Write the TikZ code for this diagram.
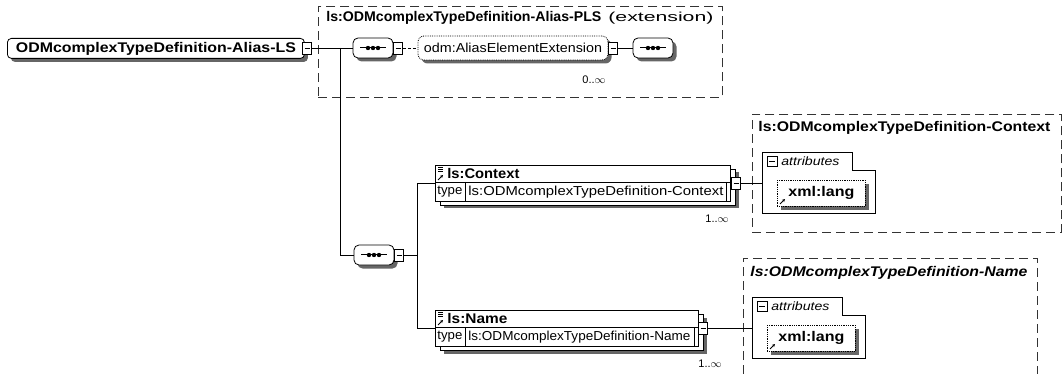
\documentclass[tikz,border=0pt]{standalone}
\usepackage{graphicx}
\usepackage{fontspec}
\setmainfont{Liberation Sans}
\usetikzlibrary{shadows,arrows.meta}
\newcommand\fw[2]{\resizebox{#1pt}{\height}{#2}}
\begin{document}
\begin{tikzpicture}[x=1pt,y=-1pt,line width=0.8pt,
  shd/.style={drop shadow={shadow xshift=3.5pt,shadow yshift=-3.5pt,fill=black!60,opacity=1}},
  rt/.style={font=\fontsize{13}{15}\selectfont,inner sep=0pt},
  bt/.style={font=\fontsize{14}{16}\selectfont\bfseries,inner sep=0pt},
  it/.style={font=\fontsize{12}{14}\selectfont\itshape,inner sep=0pt},
  sm/.style={font=\fontsize{11}{13}\selectfont,inner sep=0pt},
  grp/.style={draw=black!80,dash pattern=on 9pt off 5pt,line width=0.7pt,inner sep=0pt,anchor=north west},
  grpline/.style={draw=black!80,dash pattern=on 9pt off 5pt,line width=0.7pt},
  minusbox/.style={draw,fill=white,minimum width=9pt,minimum height=12pt,inner sep=0pt,
     path picture={\draw[line width=0.8pt] ([xshift=2pt]path picture bounding box.west) -- ([xshift=-2pt]path picture bounding box.east);}},
  seqbox/.style={draw,fill=white,rounded corners=5pt,shd,minimum width=40pt,minimum height=20pt,inner sep=0pt,
     path picture={\draw[line width=1pt] ([xshift=-13pt]path picture bounding box.center) -- ([xshift=13pt]path picture bounding box.center);
       \fill[black] ([xshift=-5pt]path picture bounding box.center) circle (2.2pt);
       \fill[black] (path picture bounding box.center) circle (2.2pt);
       \fill[black] ([xshift=5pt]path picture bounding box.center) circle (2.2pt);}},
  elem/.style={draw,fill=white,inner sep=0pt,anchor=north west,minimum height=36pt},
  attrbody/.style={inner sep=0pt,anchor=north west,minimum width=113pt,minimum height=43pt},
  xmlbox/.style={draw,densely dotted,fill=white,shd,minimum width=88pt,minimum height=26pt,inner sep=0pt,anchor=north west,bt},
  refarrow/.style={-{Stealth[length=3pt,width=3pt]},line width=0.8pt}
]
\useasboundingbox (0,0) rectangle (1063,374);

% ---------- groups ----------
\node[grp,minimum width=404pt,minimum height=91pt] (g1) at (318,6) {};
\node[bt,anchor=west] (g1t) at (326,18) {\fw{275}{ls:ODMcomplexTypeDefinition-Alias-PLS}};
\node[rt,anchor=west] (g1x) at (608,18) {\fw{105}{(extension)}};

\node[grp,minimum width=309pt,minimum height=118pt] (g2) at (752,114) {};
\node[bt,anchor=west] (g2t) at (758,128) {\fw{292}{ls:ODMcomplexTypeDefinition-Context}};

\draw[grpline] (743,374) -- (743,258) -- (1037,258) -- (1037,374);
\node[bt,anchor=west] (g3t) at (750,273) {\fw{277}{\itshape ls:ODMcomplexTypeDefinition-Name}};

% ---------- root ----------
\node[draw,fill=white,rounded corners=4pt,shd,minimum width=297pt,minimum height=20pt,anchor=north west,bt] (root) at (7,38) {\fw{280}{ODMcomplexTypeDefinition-Alias-LS}};
\node[minusbox] (rootm) at (307,48) {};

% ---------- extension sequence ----------
\node[seqbox] (s1) at (373,48) {};
\node[minusbox] (s1m) at (398,48) {};
\node[draw,densely dotted,fill=white,rounded corners=6pt,shd,minimum width=190pt,minimum height=24pt,rt] (al) at (513,48) {\fw{178}{odm:AliasElementExtension}};
\node[minusbox] (alm) at (613,48) {};
\node[seqbox] (s3) at (653,48) {};
\node[sm] (alc) at (594,80) {0..$\infty$};

% ---------- second sequence ----------
\node[seqbox] (s2) at (374,255) {};
\node[minusbox] (s2m) at (399,255) {};
\coordinate (j1) at (340,48);
\coordinate (j2) at (417,255);

% ---------- ls:Context ----------
\draw[fill=white,shd] (440,169) rectangle (735,205);
\node[elem,minimum width=295pt] (ctx) at (435,165) {};
\draw (435,182) -- (730,182);
\draw (465,182) -- (465,201);
\draw (726,182) -- (726,201);
\node[bt,anchor=west] (ctxn) at (447,173.5) {\fw{72}{ls:Context}};
\node[rt,anchor=west] (ctxty) at (437,192) {\fw{25}{type}};
\node[rt,anchor=west] (ctxv) at (468,192) {\fw{255}{ls:ODMcomplexTypeDefinition-Context}};
\draw[line width=0.5pt] (438,167)--(443,167) (438,169)--(443,169) (438,171)--(443,171);
\draw[refarrow] (438,180)--(443,175);
\node[minusbox] (ctxm) at (736,183) {};
\node[sm] (ctxc) at (717,219) {1..$\infty$};

% ---------- ls:Name ----------
\draw[fill=white,shd] (440,314) rectangle (703,350);
\node[elem,minimum width=263pt] (nm) at (435,310) {};
\draw (435,327) -- (698,327);
\draw (465,327) -- (465,346);
\draw (694,327) -- (694,346);
\node[bt,anchor=west] (nmn) at (447,318.5) {\fw{60}{ls:Name}};
\node[rt,anchor=west] (nmty) at (437,337) {\fw{25}{type}};
\node[rt,anchor=west] (nmv) at (468,337) {\fw{222}{ls:ODMcomplexTypeDefinition-Name}};
\draw[line width=0.5pt] (438,312)--(443,312) (438,314)--(443,314) (438,316)--(443,316);
\draw[refarrow] (438,325)--(443,320);
\node[minusbox] (nmm) at (703,328) {};
\node[sm] (nmc) at (710,364) {1..$\infty$};

% ---------- attributes (Context type) ----------
\draw (762,213) -- (762,152) -- (852,152) -- (852,170) -- (875,170) -- (875,213) -- cycle;
\node[attrbody] (at2) at (762,170) {};
\node[minusbox,minimum width=10pt,minimum height=10pt] (at2m) at (772,161) {};
\node[it,anchor=west] (at2t) at (781,161) {\fw{58}{attributes}};
\node[xmlbox] (xl2) at (777,180) {\fw{66}{xml:lang}};
\draw[refarrow] (780,204)--(785,199);

% ---------- attributes (Name type) ----------
\draw (752,358) -- (752,297) -- (842,297) -- (842,315) -- (865,315) -- (865,358) -- cycle;
\node[attrbody] (at3) at (752,315) {};
\node[minusbox,minimum width=10pt,minimum height=10pt] (at3m) at (762,306) {};
\node[it,anchor=west] (at3t) at (771,306) {\fw{58}{attributes}};
\node[xmlbox] (xl3) at (767,325) {\fw{66}{xml:lang}};
\draw[refarrow] (770,349)--(775,344);

% ---------- connectors ----------
\draw (rootm.east) -- (s1.west);
\draw[densely dashed] (s1m.east) -- (al.west);
\draw (alm.east) -- (s3.west);
\draw (j1) |- (s2.west);
\draw (s2m.east) -- (j2);
\draw (j2) |- (ctx.west);
\draw (j2) |- (nm.west);
\draw (ctxm.east) -- (ctxm.east -| at2.west);
\draw (nmm.east) -- (nmm.east -| at3.west);
\end{tikzpicture}
\end{document}
